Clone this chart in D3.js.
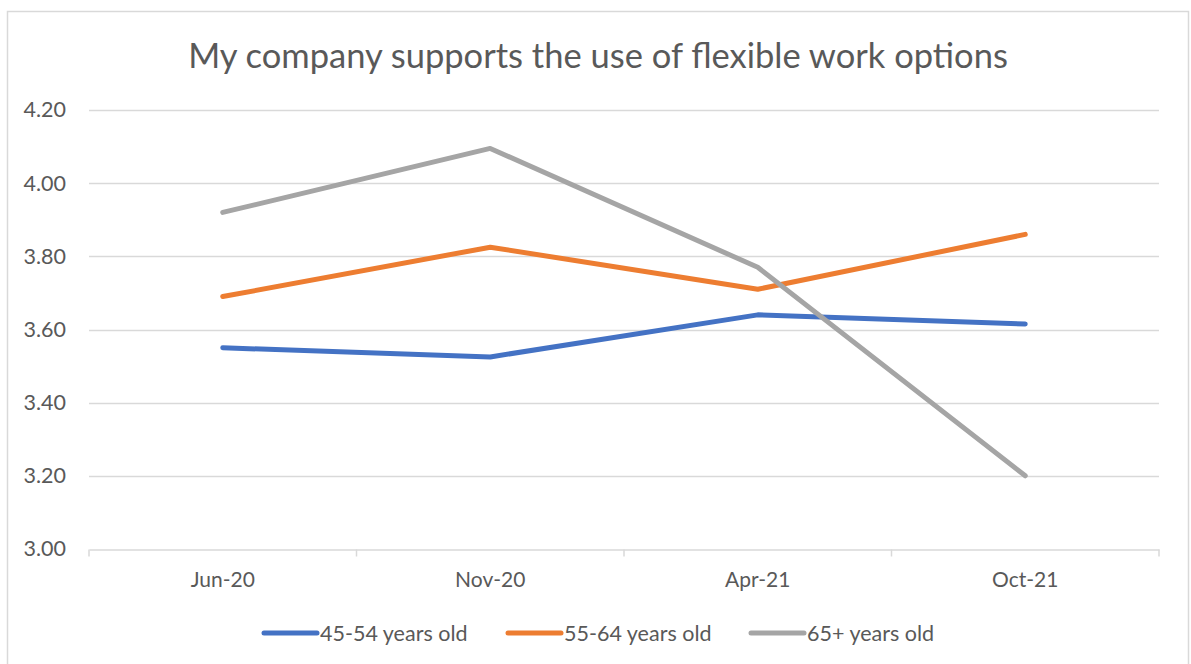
<!DOCTYPE html>
<html><head><meta charset="utf-8">
<script src="https://cdn.jsdelivr.net/npm/d3@7"></script>
<style>body{margin:0;background:#fff;}svg{display:block;font-family:Lato,"Open Sans",sans-serif;}</style>
</head><body><svg id="c" width="1191" height="664"></svg>
<script>
const categories = ["Jun-20","Nov-20","Apr-21","Oct-21"];
const seriesNames = ["45-54 years old","55-64 years old","65+ years old"];
const s4554 = [3.55, 3.525, 3.64, 3.615];
const s5564 = [3.69, 3.825, 3.71, 3.86];
const s65 = [3.92, 4.095, 3.77, 3.20];
const yTicks = [3.0, 3.2, 3.4, 3.6, 3.8, 4.0, 4.2];
const colors = ["#4472C4","#ED7D31","#A5A5A5"];
const title = "My company supports the use of flexible work options";
const FONT = "Lato,'Open Sans',sans-serif";

const svg = d3.select("#c");
svg.append("rect").attr("x",7.5).attr("y",11.5).attr("width",1181).attr("height",660)
  .attr("fill","#fff").attr("stroke","#d9d9d9").attr("stroke-width",1.5);

const L=89, R=1159, T=110, B=549;
const x = d3.scaleBand().domain(categories).range([L,R]);
const y = d3.scaleLinear().domain([3.0,4.2]).range([B,T]);

svg.append("text").attr("x",598).attr("y",68).attr("text-anchor","middle")
  .attr("font-size",34.5).attr("fill","#595959").text(title);

const grid = svg.append("g");
grid.selectAll("line").data(yTicks.slice(1)).join("line")
  .attr("x1",L).attr("x2",R).attr("y1",d=>Math.round(y(d))+0.5).attr("y2",d=>Math.round(y(d))+0.5)
  .attr("stroke","#d9d9d9").attr("stroke-width",1.5);

const yAxis = svg.append("g").attr("transform",`translate(${L},0)`)
  .call(d3.axisLeft(y).tickValues(yTicks).tickFormat(d3.format(".2f")).tickSize(0).tickPadding(23));
yAxis.select(".domain").remove();
yAxis.selectAll("text").attr("font-size",21.5).attr("fill","#595959").attr("font-family",FONT);

const xAxis = svg.append("g").attr("transform",`translate(0,${Math.round(B)+0.5})`)
  .call(d3.axisBottom(x).tickSize(0).tickPadding(23));
xAxis.select(".domain").attr("stroke","#d9d9d9").attr("stroke-width",1.5);
xAxis.selectAll("text").attr("font-size",21).attr("fill","#595959").attr("font-family",FONT);
const edges = categories.map(c=>x(c)).concat([R]);
xAxis.selectAll(".edge").data(edges).join("line").attr("class","edge")
  .attr("x1",d=>d).attr("x2",d=>d).attr("y1",0).attr("y2",7).attr("stroke","#d9d9d9").attr("stroke-width",1.5);

const all = [s4554, s5564, s65];
const line = d3.line().x((d,i)=>x(categories[i])+x.bandwidth()/2).y(d=>y(d));
all.forEach((s,k)=>{
  svg.append("path").datum(s).attr("d",line).attr("fill","none")
    .attr("stroke",colors[k]).attr("stroke-width",5).attr("stroke-linejoin","round").attr("stroke-linecap","round");
});

const legX = [264, 508, 751];
const lg = svg.append("g");
seriesNames.forEach((n,k)=>{
  const g = lg.append("g").attr("transform",`translate(${legX[k]},633)`);
  g.append("line").attr("x1",0).attr("x2",53).attr("stroke",colors[k]).attr("stroke-width",5).attr("stroke-linecap","round");
  g.append("text").attr("x",56).attr("y",8).attr("font-size",21.5).attr("fill","#595959").text(n);
});
</script></body></html>
